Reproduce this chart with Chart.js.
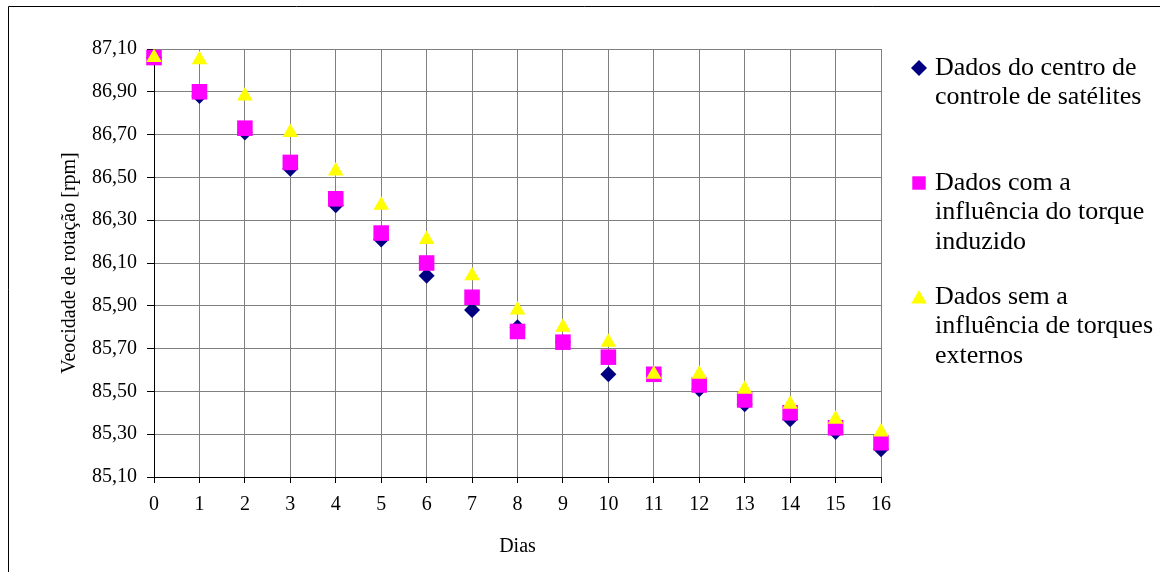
<!DOCTYPE html>
<html>
<head>
<meta charset="utf-8">
<script src="https://cdn.jsdelivr.net/npm/chart.js@4/dist/chart.umd.min.js"></script>
<style>
  html, body { margin: 0; padding: 0; background: #fff; }
  #wrap { width: 1160px; height: 572px; position: relative; }
</style>
</head>
<body>
<div id="wrap"><canvas id="chart" width="1160" height="572"></canvas></div>
<script>
// Days on the x axis
const days = [0, 1, 2, 3, 4, 5, 6, 7, 8, 9, 10, 11, 12, 13, 14, 15, 16];

// Rotation speed [rpm]
const centroControle = [87.06, 86.88, 86.71, 86.54, 86.37, 86.21, 86.04, 85.88, 85.80, 85.73, 85.58, 85.58, 85.51, 85.44, 85.37, 85.31, 85.23];
const torqueInduzido = [87.06, 86.90, 86.73, 86.57, 86.40, 86.24, 86.10, 85.94, 85.78, 85.73, 85.66, 85.58, 85.53, 85.46, 85.40, 85.33, 85.26];
const semTorques = [87.06, 87.05, 86.88, 86.71, 86.53, 86.37, 86.21, 86.04, 85.88, 85.80, 85.73, 85.58, 85.58, 85.51, 85.44, 85.37, 85.31];

// Tick labels of the y axis
const yTicks = [85.10, 85.30, 85.50, 85.70, 85.90, 86.10, 86.30, 86.50, 86.70, 86.90, 87.10];

// Legend text, one array of lines per series
const legendLines = [
    ['Dados do centro de', 'controle de satélites'],
    ['Dados com a', 'influência do torque', 'induzido'],
    ['Dados sem a', 'influência de torques', 'externos']
];

const serif = '"Liberation Serif", "Times New Roman", serif';

function toPoints(values) {
    return days.map((d, i) => ({ x: d, y: values[i] }));
}

// Frame around the whole picture plus the multi-line legend on the right
const framePlugin = {
    id: 'frame',
    beforeDraw(chart) {
        const ctx = chart.ctx;
        ctx.save();
        ctx.fillStyle = '#fff';
        ctx.fillRect(0, 0, chart.width, chart.height);
        ctx.strokeStyle = '#000';
        ctx.lineWidth = 1;
        ctx.beginPath();
        ctx.moveTo(8.5, chart.height);
        ctx.lineTo(8.5, 6.5);
        ctx.lineTo(chart.width, 6.5);
        ctx.stroke();
        ctx.restore();
    },
    afterDraw(chart) {
        const ctx = chart.ctx;
        const tops = [68, 183, 297];
        const markers = [
            { pointStyle: 'rectRot', radius: 8, color: '#000080' },
            { pointStyle: 'rect', radius: 9.5, color: '#FF00FF' },
            { pointStyle: 'triangle', radius: 9, color: '#FFFF00' }
        ];
        ctx.save();
        legendLines.forEach((lines, i) => {
            const m = markers[i];
            ctx.fillStyle = m.color;
            Chart.helpers.drawPoint(ctx, {
                pointStyle: m.pointStyle, radius: m.radius, rotation: 0, borderWidth: 0
            }, 919, tops[i] + (m.pointStyle === 'triangle' ? 2 : 0));
            ctx.fillStyle = '#000';
            ctx.font = 'normal normal 26px ' + serif;
            ctx.textBaseline = 'middle';
            ctx.textAlign = 'left';
            lines.forEach((line, j) => {
                ctx.fillText(line, 935, tops[i] + j * 29.5);
            });
        });
        ctx.restore();
    }
};

new Chart(document.getElementById('chart'), {
    type: 'scatter',
    data: {
        datasets: [
            {
                label: legendLines[0].join(' '),
                data: toPoints(centroControle),
                pointStyle: 'rectRot',
                pointRadius: 8,
                pointHoverRadius: 8,
                backgroundColor: '#000080',
                pointBorderWidth: 0,
                order: 3,
                clip: false
            },
            {
                label: legendLines[1].join(' '),
                data: toPoints(torqueInduzido),
                pointStyle: 'rect',
                pointRadius: 11,
                pointHoverRadius: 11,
                backgroundColor: '#FF00FF',
                pointBorderWidth: 0,
                order: 2,
                clip: false
            },
            {
                label: legendLines[2].join(' '),
                data: toPoints(semTorques),
                pointStyle: 'triangle',
                pointRadius: 9,
                pointHoverRadius: 9,
                backgroundColor: '#FFFF00',
                pointBorderWidth: 0,
                order: 1,
                clip: false
            }
        ]
    },
    options: {
        responsive: false,
        animation: false,
        devicePixelRatio: 1,
        layout: { padding: { left: 0, top: 49, right: 279, bottom: 0 } },
        plugins: {
            legend: { display: false },
            tooltip: { enabled: false }
        },
        scales: {
            x: {
                type: 'linear',
                min: 0,
                max: 16,
                afterFit: function(scale) { scale.height = 95; },
                afterBuildTicks: function(scale) {
                    scale.ticks = days.map(d => ({ value: d }));
                },
                ticks: {
                    color: '#000',
                    font: { family: serif, size: 20 },
                    padding: 10,
                    maxRotation: 0,
                    autoSkip: false
                },
                grid: { color: '#808080', tickColor: '#000', tickLength: 6, lineWidth: 1 },
                border: { color: '#000', width: 1 },
                title: {
                    display: true,
                    text: 'Dias',
                    color: '#000',
                    font: { family: serif, size: 20 },
                    padding: { top: 0, bottom: 13 }
                }
            },
            y: {
                type: 'linear',
                min: 85.1,
                max: 87.1,
                afterFit: function(scale) { scale.width = 154; },
                afterBuildTicks: function(scale) {
                    scale.ticks = yTicks.map(v => ({ value: v }));
                },
                ticks: {
                    color: '#000',
                    font: { family: serif, size: 20 },
                    padding: 10,
                    callback: function(value) {
                        return value.toFixed(2).replace('.', ',');
                    }
                },
                grid: { color: '#808080', tickColor: '#000', tickLength: 7, lineWidth: 1 },
                border: { color: '#000', width: 1 },
                title: {
                    display: true,
                    text: 'Veocidade de rotação [rpm]',
                    color: '#000',
                    font: { family: serif, size: 20 },
                    padding: { top: 58, bottom: 0 }
                }
            }
        }
    },
    plugins: [framePlugin]
});
</script>
</body>
</html>
